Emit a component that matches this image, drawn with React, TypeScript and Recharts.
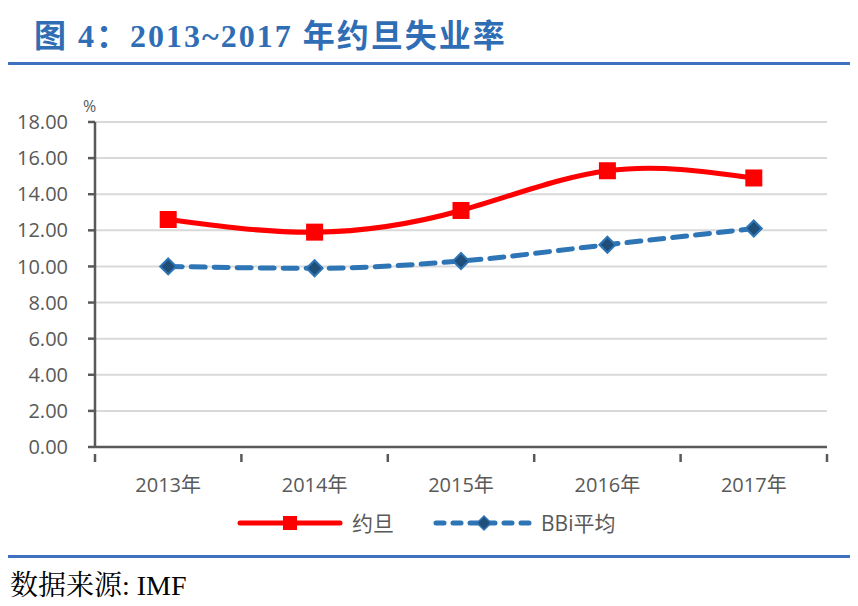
import React from 'react';
import { LineChart, Line, XAxis, YAxis, CartesianGrid } from 'recharts';

const years = ['2013年', '2014年', '2015年', '2016年', '2017年'];
const jordan = [12.6, 11.9, 13.1, 15.3, 14.9];
const bbiAvg = [10.0, 9.9, 10.3, 11.2, 12.1];
const yTicks = [0, 2, 4, 6, 8, 10, 12, 14, 16, 18];

const RED = '#ff0000';
const BLUE = '#2e75b6';
const TITLE_BLUE = '#2f6db5';
const GREY = '#595959';

const data = years.map((y, i) => ({ idx: i, year: y, jordan: jordan[i], bbi: bbiAvg[i] }));
const xTicks = years.flatMap((_, i) => (i === 0 ? [-0.5, 0, 0.5] : [i, i + 0.5]));

const SquareDot = (p: any) => {
  const { cx, cy } = p;
  if (cx == null || cy == null) return null;
  return <rect x={cx - 8.5} y={cy - 8.5} width={17} height={17} fill={RED} />;
};

const DiamondDot = (p: any) => {
  const { cx, cy } = p;
  if (cx == null || cy == null) return null;
  const r = 8;
  return (
    <path
      d={`M${cx},${cy - r} L${cx + r},${cy} L${cx},${cy + r} L${cx - r},${cy} Z`}
      fill="#1f4e79"
      stroke={BLUE}
      strokeWidth={2}
    />
  );
};

const XTick = (p: any) => {
  const { x, y, payload } = p;
  const v = payload.value as number;
  if (!Number.isInteger(v)) {
    return <line x1={x} x2={x} y1={y - 1} y2={y + 7} stroke={GREY} strokeWidth={2.5} />;
  }
  return (
    <text x={x} y={y + 37} textAnchor="middle" fill={GREY} fontSize={20}>
      {years[v]}
    </text>
  );
};

export default function App() {
  const font = '"Open Sans", "Noto Sans CJK SC", sans-serif';
  return (
    <div style={{ position: 'absolute', left: 0, top: 0, width: 858, height: 606, background: '#fff', fontFamily: font }}>
      <div
        style={{
          position: 'absolute', left: 34, top: 10, fontSize: 32, fontWeight: 'bold', color: TITLE_BLUE,
          fontFamily: '"Liberation Serif", "Noto Sans CJK SC", serif', whiteSpace: 'nowrap', letterSpacing: 2,
        }}
      >
        图 4：2013~2017 年约旦失业率
      </div>
      <div style={{ position: 'absolute', left: 8, top: 62, width: 842, height: 3, background: '#3e72c0' }} />

      <div style={{ position: 'absolute', left: 83, top: 95, fontSize: 16, color: GREY }}>%</div>

      <div style={{ position: 'absolute', left: 0, top: 0 }}>
        <LineChart width={858} height={606} data={data} margin={{ top: 122, right: 31, left: 0, bottom: 0 }}>
          <CartesianGrid vertical={false} stroke="#d9d9d9" strokeWidth={2} />
          <XAxis
            dataKey="idx"
            type="number"
            domain={[-0.5, 4.5]}
            ticks={xTicks}
            interval={0}
            height={159}
            tickLine={false}
            axisLine={{ stroke: GREY, strokeWidth: 2.5 }}
            tick={<XTick />}
          />
          <YAxis
            domain={[0, 18]}
            ticks={yTicks}
            interval={0}
            width={95}
            tickSize={7}
            tickMargin={20}
            tickFormatter={(v: number) => v.toFixed(2)}
            tick={{ fill: GREY, fontSize: 20 }}
            axisLine={{ stroke: GREY, strokeWidth: 2.5 }}
            tickLine={{ stroke: GREY, strokeWidth: 2.5 }}
          />
          <Line
            type="monotone"
            dataKey="bbi"
            stroke={BLUE}
            strokeWidth={5}
            strokeDasharray="14 9"
            strokeLinecap="round"
            dot={<DiamondDot />}
            isAnimationActive={false}
          />
          <Line
            type="natural"
            dataKey="jordan"
            stroke={RED}
            strokeWidth={5}
            dot={<SquareDot />}
            isAnimationActive={false}
          />
        </LineChart>
      </div>

      <svg style={{ position: 'absolute', left: 0, top: 505 }} width={858} height={40}>
        <line x1={240} x2={340} y1={18} y2={18} stroke={RED} strokeWidth={5} strokeLinecap="round" />
        <rect x={283} y={11} width={14} height={14} fill={RED} />
        <text x={352} y={26} fontSize={21} fill={GREY} fontFamily={font}>约旦</text>
        <line x1={436} x2={533} y1={18} y2={18} stroke={BLUE} strokeWidth={5} strokeDasharray="8 9" strokeLinecap="round" />
        <path d="M484,11 L491,18 L484,25 L477,18 Z" fill="#1f4e79" stroke={BLUE} strokeWidth={1.5} />
        <text x={541} y={26} fontSize={21} fill={GREY} fontFamily={font}>BBi平均</text>
      </svg>

      <div style={{ position: 'absolute', left: 8, top: 555, width: 842, height: 3, background: '#3e72c0' }} />
      <div
        style={{
          position: 'absolute', left: 10, top: 563, fontSize: 28, color: '#000',
          fontFamily: '"Liberation Serif", "Noto Serif CJK SC", "Noto Sans CJK SC", serif', whiteSpace: 'nowrap',
        }}
      >
        数据来源: IMF
      </div>
    </div>
  );
}
